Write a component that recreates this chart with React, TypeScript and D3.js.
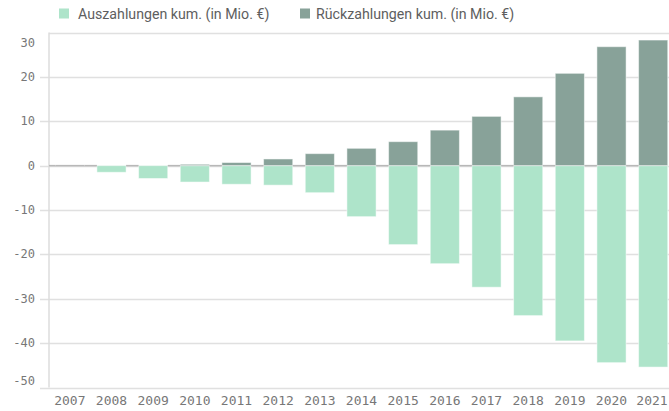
import React from 'react';
import * as d3 from 'd3';

const years = ['2007', '2008', '2009', '2010', '2011', '2012', '2013', '2014', '2015', '2016', '2017', '2018', '2019', '2020', '2021'];
const auszahlungen = [0, -1.5, -2.9, -3.7, -4.2, -4.4, -6.1, -11.5, -17.8, -22.1, -27.4, -33.8, -39.5, -44.4, -45.4];
const rueckzahlungen = [0, 0, 0, 0.3, 0.7, 1.5, 2.7, 3.9, 5.4, 8.0, 11.1, 15.5, 20.8, 26.8, 28.3];
const yTicks = [30, 20, 10, 0, -10, -20, -30, -40, -50];
const seriesNames = ['Auszahlungen kum. (in Mio. €)', 'Rückzahlungen kum. (in Mio. €)'];
const seriesColors = ['#aee4ca', '#88a299'];

const W = 669;
const H = 411;
const margin = { top: 32.5, right: -5, bottom: 23.5, left: 49 };

const App = () => {
  const x = d3.scaleBand<string>()
    .domain(years)
    .range([margin.left, W - margin.right])
    .paddingInner(0.3)
    .paddingOuter(0.15);

  const y = d3.scaleLinear()
    .domain([-50, 30])
    .range([H - margin.bottom, margin.top]);

  const rows = years.map((yr, i) => ({ year: yr, a: auszahlungen[i], r: rueckzahlungen[i] }));
  const stacked = d3.stack<any>()
    .keys(['a', 'r'])
    .offset(d3.stackOffsetDiverging)(rows);

  const monoFont = '"DejaVu Sans Mono", monospace';
  const labelColor = '#777';

  return (
    <svg width={W} height={H} style={{ position: 'absolute', left: 0, top: 0, background: '#fff' }}>
      {/* legend */}
      <g fontFamily="Roboto, sans-serif" fontSize={14.2} fill="#5e5e5e">
        <rect x={59} y={8.5} width={10} height={10} fill={seriesColors[0]} />
        <text x={78} y={18.5}>{seriesNames[0]}</text>
        <rect x={300} y={8.5} width={10} height={10} fill={seriesColors[1]} />
        <text x={316} y={18.5}>{seriesNames[1]}</text>
      </g>

      {/* grid + y axis */}
      <g>
        {yTicks.map(t => (
          <line key={t}
            x1={t === 30 ? margin.left : 40} x2={W}
            y1={Math.round(y(t)) + 0.5} y2={Math.round(y(t)) + 0.5}
            stroke="#e0e0e0" strokeWidth={1.5} />
        ))}
        <line x1={margin.left} x2={margin.left} y1={margin.top} y2={H - margin.bottom}
          stroke="#dcdcdc" strokeWidth={1.5} />
        {yTicks.map(t => {
          let ty = y(t) + 4;
          if (t === 30) ty += 10;
          if (t === -50) ty -= 7;
          return (
            <text key={t} x={35} y={ty} textAnchor="end"
              fontFamily={monoFont} fontSize={12} fill={labelColor}>{t}</text>
          );
        })}
      </g>

      {/* bars */}
      <g>
        {stacked.map((s, si) => (
          <g key={s.key} fill={seriesColors[si]}>
            {s.map((d, i) => {
              const y0 = y(d[0]);
              const y1 = y(d[1]);
              const h = Math.abs(y0 - y1);
              if (h < 0.01) return null;
              return (
                <rect key={i}
                  x={x(d.data.year)}
                  y={Math.min(y0, y1)}
                  width={x.bandwidth()}
                  height={h}
                  stroke="rgba(255,255,255,0.5)"
                  strokeWidth={1} />
              );
            })}
          </g>
        ))}
      </g>

      {/* zero line between bars */}
      <g>
        {years.map((yr, i) => {
          const x0 = i === 0 ? margin.left : x(years[i - 1])! + x.bandwidth();
          const x1 = x(yr)!;
          return (
            <line key={yr} x1={x0} x2={x1} y1={y(0)} y2={y(0)} stroke="#b8b8b8" strokeWidth={1.5} />
          );
        })}
        <line x1={x('2007')!} x2={x('2007')! + x.bandwidth()} y1={y(0)} y2={y(0)} stroke="#b8b8b8" strokeWidth={1.5} />
      </g>

      {/* x axis labels */}
      <g>
        {years.map(yr => (
          <text key={yr} x={Math.min(x(yr)! + x.bandwidth() / 2, W - 17)} y={405}
            textAnchor="middle" fontFamily={monoFont} fontSize={13} fill={labelColor}>{yr}</text>
        ))}
      </g>
    </svg>
  );
};

export default App;
